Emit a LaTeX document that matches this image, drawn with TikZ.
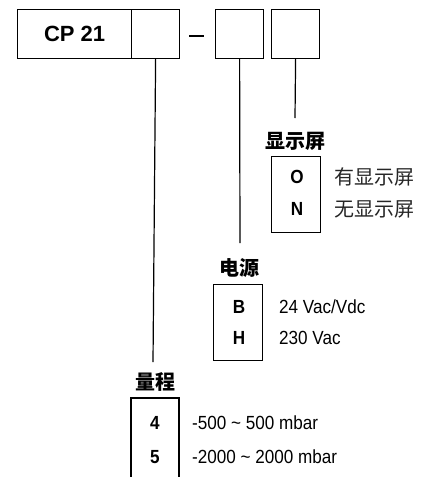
\documentclass[tikz,border=0pt]{standalone}
\usepackage{fontspec}
\setmainfont{Liberation Sans}
\newfontfamily\narrowf[FakeStretch=0.9]{Liberation Sans}
\newfontfamily\cjk{Noto Sans CJK SC}
\begin{document}
\begin{tikzpicture}[x=1pt,y=-1pt,
  box/.style={draw,line width=1.2pt,minimum width=48pt,minimum height=49pt,inner sep=0pt,anchor=north west},
  conn/.style={line width=1.2pt},
  head/.style={font=\fontsize{20}{20}\cjk\bfseries,inner sep=0pt},
  code/.style={font=\fontsize{19}{19}\narrowf\bfseries,inner sep=0pt},
  desc/.style={font=\fontsize{19}{19}\narrowf,inner sep=0pt,anchor=west},
  cdesc/.style={font=\fontsize{20}{20}\cjk,inner sep=0pt,anchor=west,text=black!85}]
\useasboundingbox (0,0) rectangle (427,477);
% top row
\node[box,minimum width=114pt] (b1) at (17,9) {};
\node[font=\fontsize{22}{22}\selectfont\bfseries] (cp) at (b1.center) {CP 21};
\node[box] (b2) at (131,9) {};
\node[box] (b3) at (215,9) {};
\node[box] (b4) at (271,9) {};
\coordinate (d1) at (189,36);
\coordinate (d2) at (204,36);
\draw[conn] (d1) -- (d2);
% display
\node[head] (h3) at (295,141) {显示屏};
\coordinate (e3) at (295,118);
\draw[conn] (b4.south) -- (e3);
\node[draw,line width=1.2pt,minimum width=49pt,minimum height=76pt,anchor=north west,inner sep=0pt] (o3) at (271,156) {};
\node[code] (cO) at (297,177) {O};
\node[code] (cN) at (297,209) {N};
\node[cdesc] (tO) at (334,177) {有显示屏};
\node[cdesc] (tN) at (334,209) {无显示屏};
% power
\node[head] (h2) at (239,268) {电源};
\coordinate (e2) at (240,243);
\draw[conn] (b3.south) -- (e2);
\node[draw,line width=1.2pt,minimum width=49pt,minimum height=76pt,anchor=north west,inner sep=0pt] (o2) at (213,284) {};
\node[code] (cB) at (239,307) {B};
\node[code] (cH) at (239,338) {H};
\node[desc] (tB) at (279,307) {24 Vac/Vdc};
\node[desc] (tH) at (279,338) {230 Vac};
% range
\node[head] (h1) at (155,382) {量程};
\coordinate (e1) at (153,362);
\draw[conn] (b2.south) -- (e1);
\coordinate (r1) at (131,478);
\coordinate (r2) at (131,398);
\coordinate (r3) at (179,398);
\coordinate (r4) at (179,478);
\draw[conn] (r1) -- (r2) -- (r3) -- (r4);
\node[code] (c4) at (155,423) {4};
\node[code] (c5) at (155,457) {5};
\node[desc] (t4) at (192,423) {-500 \textasciitilde{} 500 mbar};
\node[desc] (t5) at (192,457) {-2000 \textasciitilde{} 2000 mbar};
\end{tikzpicture}
\end{document}
